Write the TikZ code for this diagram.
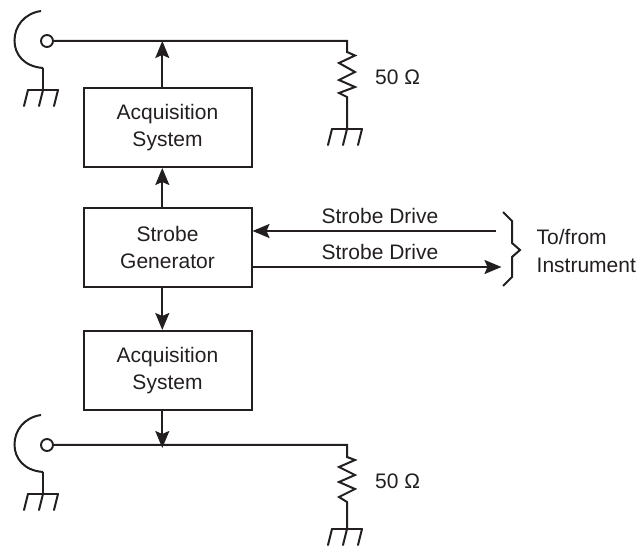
\documentclass[tikz,border=0pt]{standalone}
\usepackage{fontspec}
\setmainfont{Liberation Sans}
\usetikzlibrary{arrows.meta}
\definecolor{ink}{HTML}{231F20}
\tikzset{
  every node/.style={text=ink},
  wire/.style={draw=ink,line width=2pt,line join=miter},
  sysbox/.style={draw=ink,line width=2pt,minimum width=168pt,minimum height=79pt,inner sep=0pt,align=center,font=\fontsize{21pt}{27.5pt}\selectfont},
  lbl/.style={inner sep=0pt,font=\fontsize{21pt}{25pt}\selectfont},
  flow/.style={wire,-{Stealth[length=17pt,width=14pt,inset=3pt]}},
  port/.style={circle,draw=ink,line width=1.9pt,minimum size=12pt,inner sep=0pt},
}
\newcommand{\grnd}[2]{%
  \draw[wire,line cap=round] (#1-15,#2) -- (#1+15,#2);
  \draw[wire,line cap=round] (#1-15,#2) -- (#1-19,#2+16);
  \draw[wire,line cap=round] (#1,#2) -- (#1-4,#2+16);
  \draw[wire,line cap=round] (#1+15,#2) -- (#1+11,#2+16);
}
\newcommand{\coax}[1]{%
  \draw[wire] (41,#1-29.5) .. controls (24,#1-27) and (14.5,#1-14) .. (14.5,#1) .. controls (14.5,#1+14) and (24,#1+26) .. (43,#1+27.5);
}
\begin{document}
\begin{tikzpicture}[x=1pt,y=-1pt]
\useasboundingbox (0,0) rectangle (641,548);
\node[sysbox] (a1) at (167.5,127.5) {Acquisition\\System};
\node[sysbox] (sg) at (167.5,247.5) {Strobe\\Generator};
\node[sysbox] (a2) at (167.5,370.5) {Acquisition\\System};
% top channel
\node[port] (p1) at (47,41) {};
\coordinate (r1) at (347,41);
\coordinate (j1) at (162.3,41);
\draw[wire] (p1) -- (r1) -- (347,52) -- (355,55.5) -- (339,63) -- (355,72) -- (339,80) -- (355,87) -- (339,93) -- (347,97) -- (347,129);
\coax{40.5}
\draw[wire] (43,68) -- (43,90);
\grnd{43}{90}
\grnd{347}{129}
\node[lbl,anchor=base west] (o1) at (375,85) {50 Ω};
% bottom channel
\node[port] (p2) at (47,445) {};
\coordinate (r2) at (347,445);
\coordinate (j2) at (162.3,448);
\draw[wire] (p2) -- (r2) -- (347,457) -- (355,460) -- (339,467) -- (355,475) -- (339,482) -- (355,489) -- (339,497) -- (347,502) -- (347,529);
\coax{444.5}
\draw[wire] (43,472) -- (43,494);
\grnd{43}{494}
\grnd{347}{529}
\node[lbl,anchor=base west] (o2) at (375,489) {50 Ω};
% flows
\draw[flow] (j1 |- a1.north) -- (j1);
\draw[flow] (j1 |- sg.north) -- (j1 |- a1.south);
\draw[flow] (j1 |- sg.south) -- (j1 |- a2.north);
\draw[flow] (j1 |- a2.south) -- (j2);
\coordinate (s1) at (496,231);
\coordinate (s2) at (501.5,267);
\draw[flow] (s1) -- (sg.east |- s1);
\draw[flow] (sg.east |- s2) -- (s2);
\node[lbl,anchor=base] (d1) at (380,224) {Strobe Drive};
\node[lbl,anchor=base] (d2) at (380,260) {Strobe Drive};
% brace
\draw[wire] (503,212) -- (512,221) -- (512,243) -- (520,250) -- (512,257) -- (512,277) -- (503,286);
\node[lbl,anchor=base west] (t1) at (536.5,245) {To/from};
\node[lbl,anchor=base west] (t2) at (536.5,272.7) {Instrument};
\end{tikzpicture}
\end{document}
